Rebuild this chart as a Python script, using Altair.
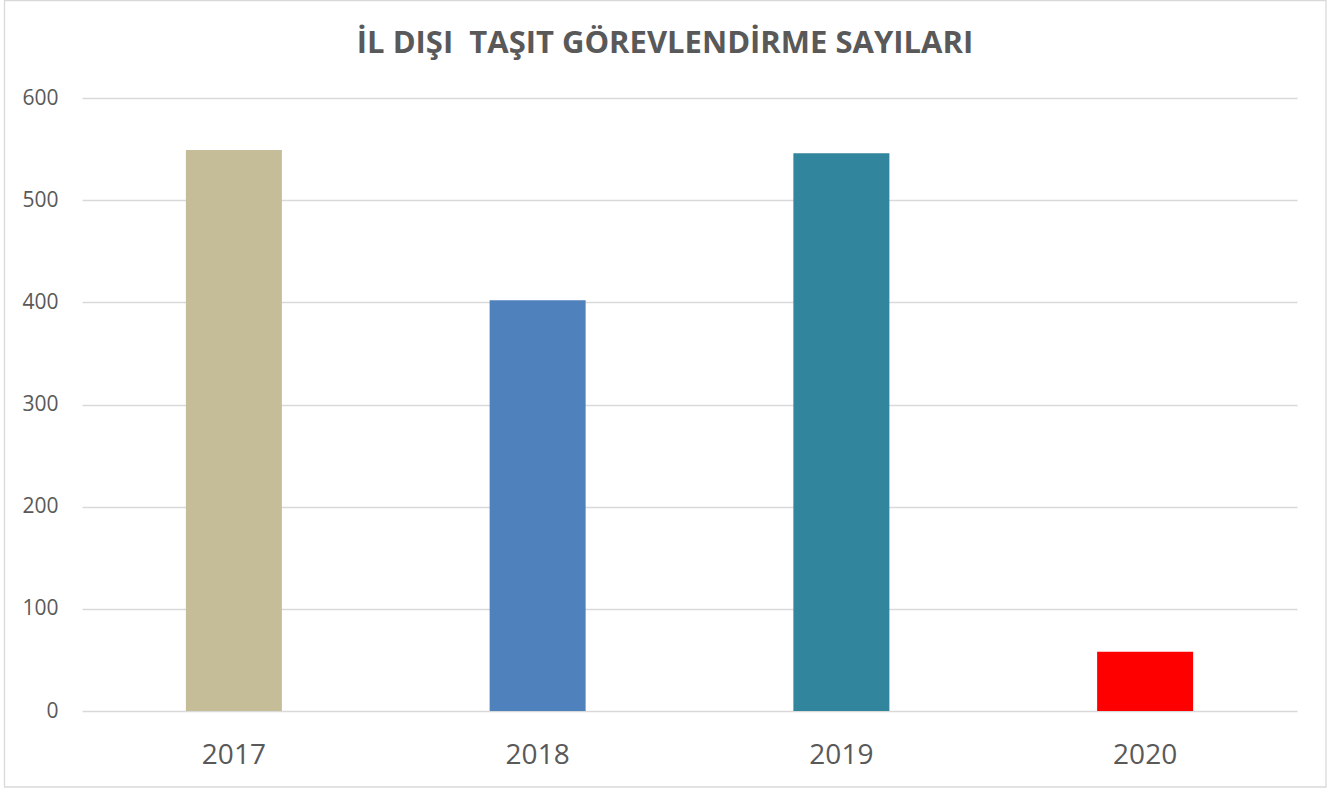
import altair as alt
import pandas as pd

years = ["2017", "2018", "2019", "2020"]
values = [549, 402, 546, 58]
colors = ["#C4BD97", "#4F81BD", "#31859C", "#FF0000"]
title_text = "İL DIŞI\u00a0 TAŞIT GÖREVLENDİRME SAYILARI"

df = pd.DataFrame({"year": years, "count": values})

W, H = 1215, 613

bars = alt.Chart(df).mark_bar(size=96).encode(
    x=alt.X("year:N", sort=years,
            scale=alt.Scale(paddingInner=0, paddingOuter=0),
            axis=alt.Axis(title=None, labelAngle=0, labelFontSize=28, labelColor="#595959",
                          labelFont="Open Sans", ticks=False, tickSize=0, domain=False,
                          labelPadding=52, labelBaseline="alphabetic", grid=False)),
    y=alt.Y("count:Q", scale=alt.Scale(domain=[0, 600]),
            axis=alt.Axis(title=None, values=[0, 100, 200, 300, 400, 500, 600],
                          labelFontSize=21, labelColor="#595959", labelFont="Open Sans",
                          ticks=False, tickSize=0, domain=False, labelPadding=24,
                          gridColor="#D9D9D9", gridWidth=1.5)),
    color=alt.Color("year:N", scale=alt.Scale(domain=years, range=colors), legend=None),
)

one = alt.Data(values=[{}])

border = alt.Chart(one).mark_rect(
    filled=False, stroke="#D9D9D9", strokeWidth=1.3
).encode(
    x=alt.value(-77.5), x2=alt.value(1244), y=alt.value(-97.5), y2=alt.value(689)
)

title = alt.Chart(one).mark_text(
    text=title_text, fontSize=31, fontWeight="bold", font="Open Sans", color="#595959",
    align="center", baseline="alphabetic"
).encode(x=alt.value(583), y=alt.value(-45))

chart = alt.layer(border, title, bars).properties(
    width=W, height=H,
    autosize=alt.AutoSizeParams(type="none"),
    padding={"left": 82, "top": 98, "right": 44, "bottom": 78},
).configure(
    background="white",
    view=alt.ViewConfig(stroke="transparent"),
)

chart.save("out.html", embed_options={"renderer": "svg", "actions": False})
